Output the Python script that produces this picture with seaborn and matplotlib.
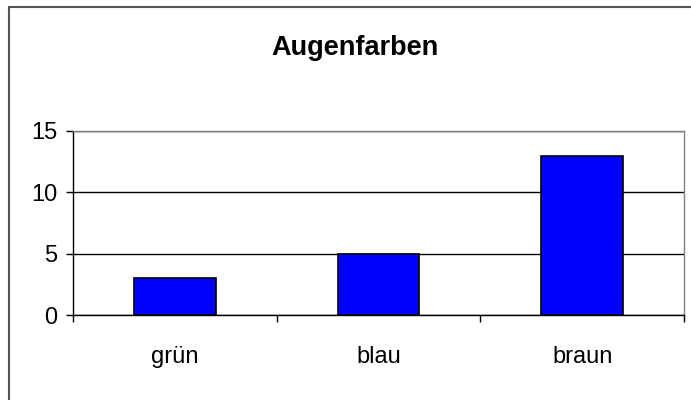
import matplotlib
matplotlib.use("Agg")
import matplotlib.pyplot as plt
from matplotlib.lines import Line2D
import seaborn as sns
import pandas as pd

# data
categories = ["grün", "blau", "braun"]
values = [3, 5, 13]
y_ticks = [0, 5, 10, 15]
title = "Augenfarben"

sns.set_style("white")
plt.rcParams["font.family"] = ["Liberation Sans", "DejaVu Sans"]

df = pd.DataFrame({"farbe": categories, "anzahl": values})

fig = plt.figure(figsize=(6.91, 4.0), dpi=100)
ax = fig.add_axes([73 / 691, 1 - 315 / 400, (684 - 73) / 691, (315 - 131) / 400])

sns.barplot(data=df, x="farbe", y="anzahl", color="#0000ff", saturation=1,
            width=0.4, edgecolor="black", linewidth=1.2, ax=ax, zorder=3)

ax.set_ylim(0, 15)
ax.set_xlim(-0.5, 2.5)
ax.set_yticks(y_ticks)
ax.set_yticklabels([str(t) for t in y_ticks], fontsize=17)
ax.yaxis.grid(True, color="black", linewidth=1, zorder=0)
ax.set_axisbelow(True)

# ticks between categories like the original
ax.set_xticks([-0.5, 0.5, 1.5, 2.5])
ax.set_xticklabels([])
ax.tick_params(axis="x", direction="out", length=5, width=1, color="black", bottom=True)
ax.tick_params(axis="y", direction="out", length=5, width=1, color="black", left=True, pad=6.5)
for i, c in enumerate(categories):
    ax.text(i, -0.23, c, transform=ax.get_xaxis_transform(), ha="center", va="center",
            fontsize=17, color="black")

ax.set_xlabel("")
ax.set_ylabel("")
ax.tick_params(labelcolor="black")
ax.spines["left"].set_color("black")
ax.spines["bottom"].set_color("black")
ax.spines["top"].set_color("#808080")
ax.spines["right"].set_color("#808080")
for s in ax.spines.values():
    s.set_linewidth(1)

fig.text(355 / 691, 1 - 48 / 400, title, ha="center", va="center",
         fontsize=19.5, fontweight="bold", color="black")

# outer frame (left and top edges visible)
fig.add_artist(Line2D([9 / 691, 9 / 691], [0, 1 - 7 / 400], color="#555555", linewidth=1.5))
fig.add_artist(Line2D([9 / 691, 1], [1 - 7 / 400, 1 - 7 / 400], color="#555555", linewidth=1.5))

fig.savefig("out.png", dpi=100)
